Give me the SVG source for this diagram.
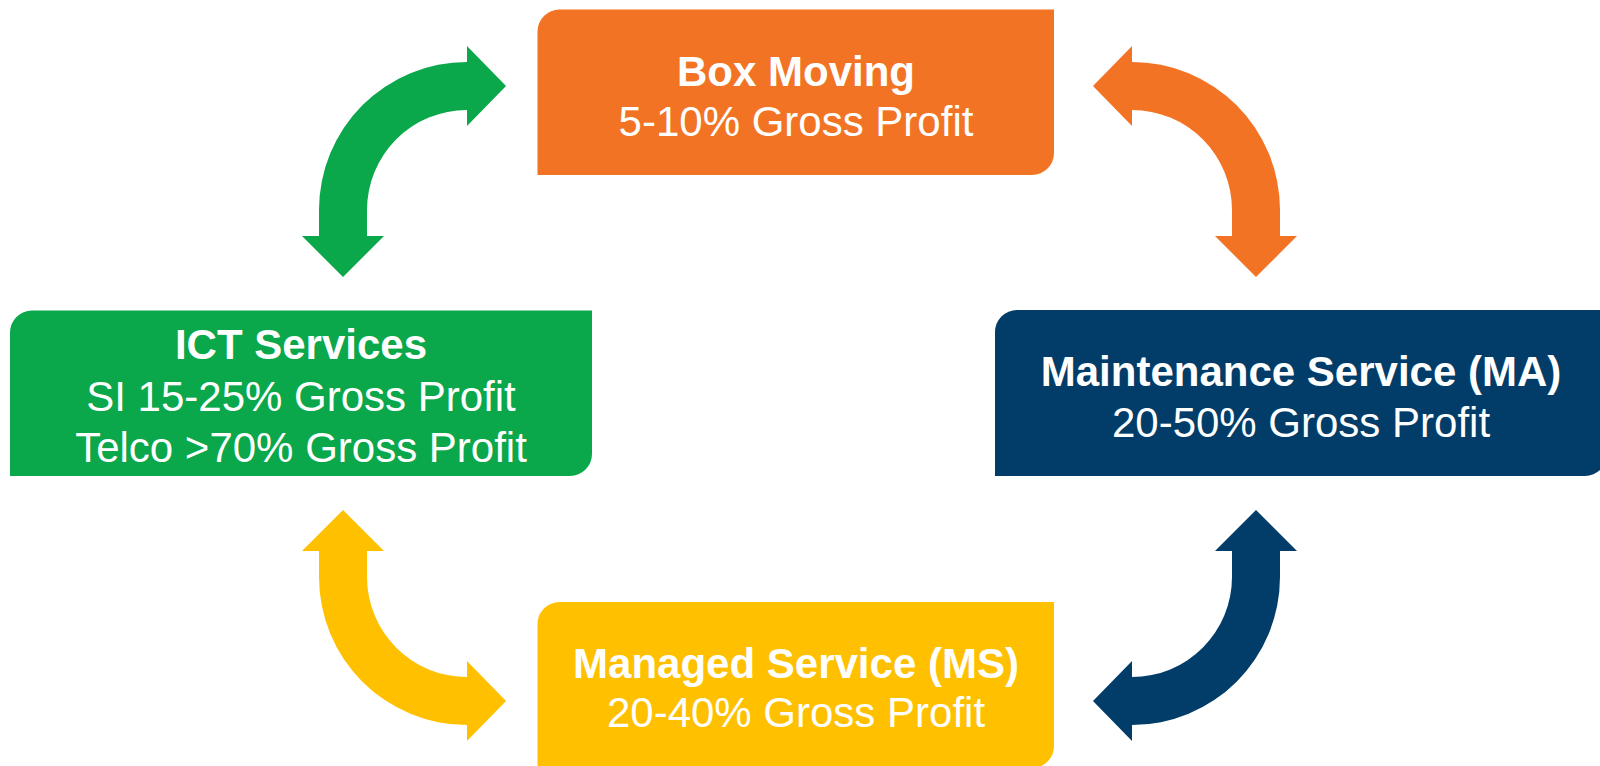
<svg xmlns="http://www.w3.org/2000/svg" width="1600" height="766" viewBox="0 0 1600 766">
  <style>
    .title { font-family: "Liberation Sans", Arial, sans-serif; font-size: 42px; font-weight: bold; fill: #ffffff; text-anchor: middle; }
    .sub { font-family: "Liberation Sans", Arial, sans-serif; font-size: 42px; fill: #ffffff; text-anchor: middle; }
  </style>
  <defs>
    <!-- quarter-circle double-headed arrow: right head at top, down head at left -->
    <path id="bend" d="M 467 62 L 467 46 L 506 86 L 467 126 L 467 110 A 100 100 0 0 0 367 210 L 367 236 L 384 236 L 343 277 L 302 236 L 319 236 L 319 210 A 148 148 0 0 1 467 62 Z"/>
  </defs>

  <rect width="1600" height="766" fill="#ffffff"/>

  <g id="connectors">
    <use href="#bend" fill="#0AA74B"/>
    <use href="#bend" fill="#F37324" transform="translate(1599,0) scale(-1,1)"/>
    <use href="#bend" fill="#FFC000" transform="translate(0,787) scale(1,-1)"/>
    <use href="#bend" fill="#023D69" transform="translate(1599,787) scale(-1,-1)"/>
  </g>

  <g id="box-moving">
    <path d="M 559.5 9.5 H 1054 V 153 A 22 22 0 0 1 1032 175 H 537.5 V 31.5 A 22 22 0 0 1 559.5 9.5 Z" fill="#F37324"/>
    <text class="title" x="796" y="86">Box Moving</text>
    <text class="sub" x="796" y="136">5-10% Gross Profit</text>
  </g>

  <g id="ict-services">
    <path d="M 32 310.5 H 592 V 454 A 22 22 0 0 1 570 476 H 10 V 332.5 A 22 22 0 0 1 32 310.5 Z" fill="#0AA74B"/>
    <text class="title" x="301" y="359">ICT Services</text>
    <text class="sub" x="301" y="411">SI 15-25% Gross Profit</text>
    <text class="sub" x="301" y="462">Telco &gt;70% Gross Profit</text>
  </g>

  <g id="maintenance-service">
    <path d="M 1017 310 H 1607 V 454 A 22 22 0 0 1 1585 476 H 995 V 332 A 22 22 0 0 1 1017 310 Z" fill="#023D69"/>
    <text class="title" x="1301" y="386">Maintenance Service (MA)</text>
    <text class="sub" x="1301" y="437">20-50% Gross Profit</text>
  </g>

  <g id="managed-service">
    <path d="M 559.5 602 H 1054 V 746 A 22 22 0 0 1 1032 768 H 537.5 V 624 A 22 22 0 0 1 559.5 602 Z" fill="#FFC000"/>
    <text class="title" x="796" y="678">Managed Service (MS)</text>
    <text class="sub" x="796" y="727">20-40% Gross Profit</text>
  </g>
</svg>
